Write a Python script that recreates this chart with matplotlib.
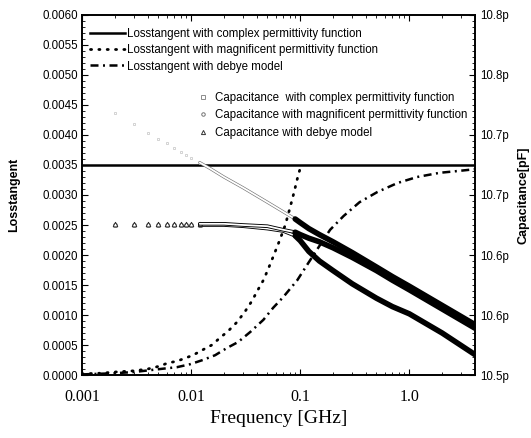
import numpy as np
import matplotlib
matplotlib.use('Agg')
from matplotlib import pyplot as plt
from matplotlib.ticker import MultipleLocator, LogLocator, NullFormatter
import matplotlib.patheffects as pe

plt.rcParams['font.family'] = ['Liberation Sans', 'DejaVu Sans']

# loss tangent curves (GHz, tan delta)
lt_complex_f = [0.001, 4.0]
lt_complex = [0.0035, 0.0035]

lt_magn_f = [0.001, 0.0015, 0.002, 0.003, 0.004, 0.0052, 0.0061, 0.0074, 0.0088,
             0.0104, 0.0128, 0.0155, 0.0184, 0.0218, 0.0263, 0.031, 0.036, 0.041,
             0.046, 0.051, 0.0565, 0.065, 0.073, 0.081, 0.088, 0.095, 0.102]
lt_magn = [0.00002, 0.00003, 0.00005, 0.00007, 0.0001, 0.00015, 0.0002, 0.00023,
           0.00028, 0.00033, 0.00042, 0.0005, 0.00062, 0.00073, 0.00088, 0.00105,
           0.00123, 0.00142, 0.00158, 0.00177, 0.00197, 0.00225, 0.0025, 0.0028,
           0.00305, 0.0033, 0.0035]

lt_debye_f = [0.001, 0.002, 0.003, 0.0052, 0.0074, 0.0098, 0.0128, 0.0166, 0.0213,
              0.027, 0.035, 0.046, 0.0565, 0.07, 0.094, 0.12, 0.15, 0.188, 0.25,
              0.35, 0.51, 0.78, 1.18, 1.9, 2.8, 4.0]
lt_debye = [0.00001, 0.00003, 0.00005, 0.0001, 0.00013, 0.00018, 0.00025, 0.00033,
            0.00045, 0.00055, 0.00072, 0.00092, 0.00112, 0.0013, 0.00158, 0.00188,
            0.00215, 0.00242, 0.00265, 0.00288, 0.00305, 0.0032, 0.0033, 0.00337,
            0.0034, 0.00343]

# capacitance curves (GHz, pF)
cap_f = [0.002, 0.003, 0.004, 0.005, 0.006, 0.007, 0.008, 0.009, 0.01, 0.012, 0.015,
         0.02, 0.03, 0.05, 0.07, 0.09, 0.1, 0.12, 0.15, 0.2, 0.3, 0.5, 0.7, 1.0,
         2.0, 4.0]
cap_complex = [10.718, 10.709, 10.702, 10.697, 10.693, 10.689, 10.686, 10.683,
               10.681, 10.677, 10.672, 10.665, 10.656, 10.644, 10.636, 10.630,
               10.627, 10.622, 10.617, 10.611, 10.602, 10.590, 10.582, 10.574,
               10.558, 10.542]
cap_magn = [10.625, 10.625, 10.625, 10.625, 10.625, 10.625, 10.625, 10.625, 10.625,
            10.625, 10.625, 10.625, 10.624, 10.622, 10.620, 10.616, 10.612, 10.603,
            10.595, 10.587, 10.576, 10.564, 10.557, 10.551, 10.535, 10.517]
cap_debye = [10.626, 10.626, 10.626, 10.626, 10.626, 10.626, 10.626, 10.626, 10.626,
             10.626, 10.626, 10.626, 10.625, 10.624, 10.621, 10.619, 10.617, 10.614,
             10.611, 10.606, 10.598, 10.587, 10.579, 10.571, 10.555, 10.539]

freq_ticks = [0.001, 0.01, 0.1, 1.0]
freq_ticklabels = ['0.001', '0.01', '0.1', '1.0']
cap_ticks = [10.50, 10.55, 10.60, 10.65, 10.70, 10.75, 10.80]
cap_ticklabels = ['10.5p', '10.6p', '10.6p', '10.7p', '10.7p', '10.8p', '10.8p']

fig = plt.figure(figsize=(5.31, 4.38), dpi=100)
ax = fig.add_axes([0.1544, 0.1438, 0.7401, 0.822])
ax2 = ax.twinx()

l1, = ax.plot(lt_complex_f, lt_complex, color='k', lw=1.8,
              label='Losstangent with complex permittivity function')
l2, = ax.plot(lt_magn_f, lt_magn, color='k', lw=2.0, dashes=(0.4, 2.6),
              dash_capstyle='round',
              label='Losstangent with magnificent permittivity function')
l3, = ax.plot(lt_debye_f, lt_debye, color='k', lw=1.8, dashes=(3.2, 1.8, 0.8, 1.8),
              label='Losstangent with debye model')

f = np.array(cap_f)
low = f <= 0.012
mid = (f >= 0.012) & (f <= 0.1)
high = f >= 0.09
stroke = [pe.Stroke(linewidth=2.6, foreground='k'), pe.Normal()]
stroke_light = [pe.Stroke(linewidth=2.2, foreground='0.45'), pe.Normal()]

def draw_cap(vals, marker, mcol, ms, fx):
    v = np.array(vals)
    ax2.plot(f[low], v[low], ls='none', marker=marker, ms=ms, mfc='none',
             mec=mcol, mew=0.6)
    ax2.plot(f[mid], v[mid], color='white', lw=1.3, path_effects=fx,
             solid_capstyle='round')
    ax2.plot(f[high], v[high], color='k', lw=4.0, solid_capstyle='round')

draw_cap(cap_complex, 's', '0.8', 2.0, stroke_light)
draw_cap(cap_magn, 'o', '0.45', 3.0, stroke)
draw_cap(cap_debye, '^', '0.15', 3.4, stroke)

m1, = ax2.plot([], [], ls='none', marker='s', ms=2.2, mfc='none', mec='0.55', mew=0.7,
               label='Capacitance  with complex permittivity function')
m2, = ax2.plot([], [], ls='none', marker='o', ms=2.5, mfc='none', mec='0.45', mew=0.7,
               label='Capacitance with magnificent permittivity function')
m3, = ax2.plot([], [], ls='none', marker='^', ms=3, mfc='none', mec='0.2', mew=0.7,
               label='Capacitance with debye model')

ax.set_xscale('log')
ax.set_xlim(0.001, 4.0)
ax.set_ylim(0, 0.006)
ax2.set_ylim(10.5, 10.8)

ax.set_xticks(freq_ticks)
ax.set_xticklabels(freq_ticklabels, family='Liberation Serif', fontsize=11.5)
ax.xaxis.set_minor_locator(LogLocator(base=10, subs=np.arange(2, 10)))
ax.xaxis.set_minor_formatter(NullFormatter())
ax.yaxis.set_major_locator(MultipleLocator(0.0005))
ax.yaxis.set_minor_locator(MultipleLocator(0.0001))
ax.set_yticklabels(['%.4f' % t for t in ax.get_yticks()], fontsize=8.3)

ax2.set_yticks(cap_ticks)
ax2.set_yticklabels(cap_ticklabels, fontsize=8.3)
ax2.yaxis.set_minor_locator(MultipleLocator(0.005))

ax.tick_params(which='both', direction='in', top=True)
ax.tick_params(which='major', length=4, width=0.8)
ax.tick_params(which='minor', length=2, width=0.6)
ax.tick_params(axis='y', pad=3)
ax.tick_params(axis='x', pad=10)
ax2.tick_params(which='both', direction='in')
ax2.tick_params(which='major', length=4, width=0.8)
ax2.tick_params(which='minor', length=2, width=0.6)
for a in (ax, ax2):
    for s in a.spines.values():
        s.set_linewidth(1.2)

ax.set_xlabel('Frequency [GHz]', family='Liberation Serif', fontsize=14, labelpad=4)
ax.set_ylabel('Losstangent', fontsize=9, fontweight='bold', labelpad=16)
ax2.set_ylabel('Capacitance[pF]', fontsize=9, fontweight='bold', labelpad=6)

leg1 = ax2.legend(handles=[l1, l2, l3], loc='upper left', bbox_to_anchor=(0.0, 0.985),
                  frameon=False, fontsize=8.3, handlelength=3.0, handletextpad=0.2,
                  labelspacing=0.35, borderaxespad=0.3)
ax2.add_artist(leg1)
ax2.legend(handles=[m1, m2, m3], loc='upper left', bbox_to_anchor=(0.285, 0.8),
           frameon=False, fontsize=8.3, handlelength=0.8, handletextpad=0.6,
           labelspacing=0.48, borderaxespad=0.0)

fig.savefig('out.png', dpi=100)
